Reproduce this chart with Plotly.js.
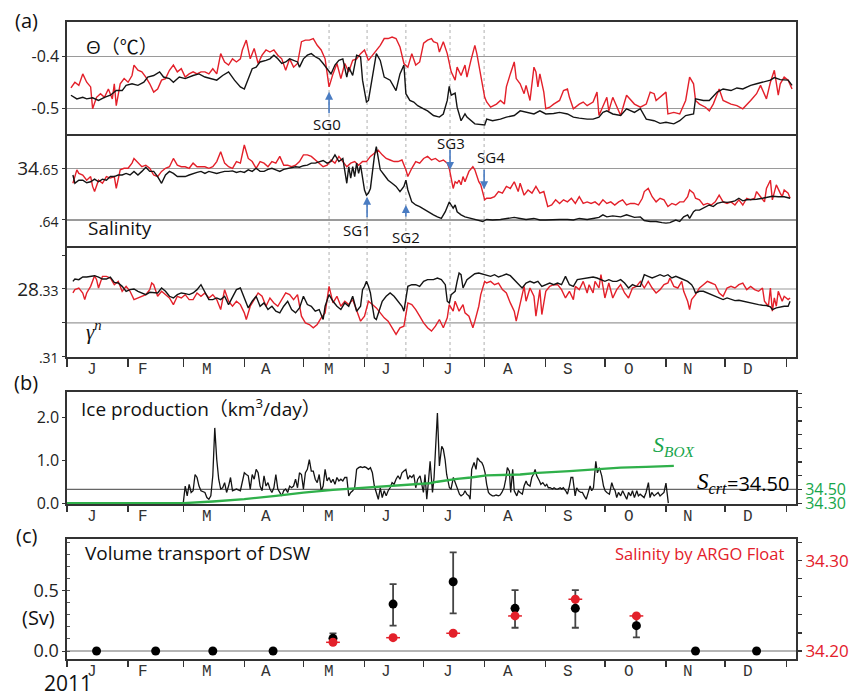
<!DOCTYPE html>
<html><head><meta charset="utf-8">
<script src="https://cdn.plot.ly/plotly-3.0.1.min.js"></script>
<style>body{margin:0;background:#fff}#chart{width:854px;height:696px}</style>
</head><body><div id="chart"></div>
<script>
// ---------------- data ----------------
const monthStartDays = [0,31,59,90,120,151,181,212,243,273,304,334,365];
const monthLetters = ['J','F','M','A','M','J','J','A','S','O','N','D'];
const monthLabelDays = [12.7,38.6,71,101,133,162,193.4,223.9,254.3,285.3,315,345.7];
const sgNames = ['SG0','SG1','SG2','SG3','SG4'];
const sgDays = [133,152.3,172,194.4,211.7];

// (a) potential temperature [day, degC]
const thetaBlack = [[2,-0.475],[5,-0.482],[8,-0.479],[10,-0.482],[13,-0.480],[16,-0.485],[19,-0.479],[22,-0.475],[25,-0.466],[28,-0.466],[30,-0.456],[33,-0.453],[36,-0.456],[39,-0.450],[41,-0.440],[44,-0.437],[47,-0.430],[49,-0.440],[52,-0.443],[54,-0.450],[57,-0.440],[60,-0.443],[64,-0.437],[67,-0.434],[70,-0.440],[73,-0.443],[76,-0.446],[79,-0.437],[82,-0.430],[85,-0.446],[88,-0.459],[90,-0.463],[92,-0.443],[94,-0.424],[96,-0.421],[98,-0.411],[101,-0.408],[103,-0.405],[105,-0.398],[107,-0.405],[109,-0.414],[111,-0.411],[113,-0.405],[115,-0.408],[117,-0.411],[118,-0.421],[120,-0.405],[122,-0.398],[124,-0.395],[126,-0.401],[128,-0.405],[130,-0.414],[132,-0.424],[134,-0.434],[136,-0.417],[138,-0.408],[140,-0.405],[142,-0.440],[143,-0.421],[145,-0.437],[147,-0.398],[149,-0.401],[150,-0.446],[152,-0.488],[153,-0.485],[155,-0.440],[157,-0.395],[159,-0.408],[161,-0.440],[164,-0.446],[167,-0.466],[169,-0.434],[171,-0.417],[172,-0.472],[174,-0.485],[176,-0.488],[178,-0.495],[181,-0.501],[183,-0.505],[186,-0.514],[189,-0.517],[191,-0.511],[193,-0.485],[194,-0.458],[195,-0.475],[197,-0.471],[198,-0.498],[200,-0.524],[202,-0.511],[203,-0.517],[207,-0.530],[212,-0.532],[213,-0.521],[216,-0.524],[220,-0.521],[223,-0.517],[227,-0.514],[230,-0.505],[233,-0.508],[237,-0.511],[240,-0.505],[243,-0.511],[247,-0.510],[250,-0.508],[254,-0.511],[257,-0.517],[260,-0.519],[264,-0.521],[267,-0.521],[270,-0.517],[272,-0.508],[274,-0.505],[277,-0.511],[281,-0.514],[284,-0.501],[288,-0.508],[291,-0.501],[294,-0.521],[298,-0.524],[301,-0.529],[304,-0.527],[308,-0.530],[311,-0.524],[314,-0.514],[318,-0.511],[319,-0.482],[323,-0.485],[326,-0.485],[330,-0.469],[333,-0.463],[337,-0.466],[340,-0.461],[343,-0.463],[347,-0.456],[350,-0.453],[353,-0.450],[357,-0.446],[359,-0.441],[362,-0.445],[366,-0.446],[368,-0.456]];
const thetaRed = [[2,-0.461],[4,-0.450],[6,-0.456],[8,-0.434],[10,-0.450],[12,-0.459],[13,-0.501],[15,-0.479],[17,-0.472],[19,-0.479],[21,-0.463],[23,-0.482],[24,-0.453],[25,-0.495],[27,-0.453],[29,-0.443],[31,-0.450],[33,-0.437],[34,-0.417],[36,-0.427],[38,-0.430],[40,-0.440],[42,-0.453],[44,-0.469],[46,-0.463],[48,-0.446],[50,-0.443],[52,-0.427],[54,-0.417],[56,-0.430],[58,-0.424],[60,-0.440],[62,-0.434],[64,-0.430],[66,-0.434],[68,-0.430],[70,-0.430],[72,-0.434],[74,-0.424],[76,-0.434],[78,-0.395],[80,-0.411],[82,-0.417],[84,-0.405],[86,-0.411],[88,-0.405],[89,-0.388],[91,-0.369],[93,-0.405],[95,-0.385],[97,-0.414],[99,-0.398],[101,-0.388],[103,-0.392],[105,-0.388],[107,-0.398],[109,-0.405],[111,-0.427],[113,-0.405],[115,-0.421],[117,-0.414],[119,-0.372],[121,-0.369],[123,-0.369],[125,-0.366],[127,-0.379],[129,-0.388],[131,-0.405],[133,-0.459],[135,-0.434],[137,-0.414],[139,-0.443],[141,-0.414],[143,-0.430],[145,-0.408],[147,-0.405],[149,-0.395],[151,-0.388],[153,-0.408],[155,-0.398],[157,-0.388],[159,-0.379],[161,-0.366],[163,-0.366],[165,-0.363],[167,-0.366],[169,-0.382],[171,-0.414],[173,-0.421],[175,-0.395],[177,-0.417],[179,-0.411],[181,-0.375],[183,-0.369],[185,-0.366],[186,-0.372],[188,-0.375],[189,-0.392],[191,-0.372],[193,-0.395],[195,-0.430],[197,-0.446],[198,-0.421],[200,-0.437],[202,-0.417],[203,-0.440],[205,-0.408],[207,-0.379],[208,-0.395],[210,-0.434],[212,-0.479],[213,-0.488],[215,-0.498],[218,-0.492],[220,-0.485],[222,-0.492],[223,-0.459],[225,-0.434],[227,-0.411],[228,-0.443],[230,-0.453],[232,-0.472],[233,-0.456],[235,-0.485],[237,-0.421],[238,-0.430],[239,-0.459],[240,-0.434],[242,-0.469],[243,-0.501],[245,-0.498],[247,-0.492],[250,-0.485],[252,-0.466],[254,-0.463],[255,-0.479],[257,-0.501],[260,-0.492],[262,-0.488],[264,-0.495],[267,-0.488],[269,-0.469],[270,-0.514],[274,-0.479],[275,-0.505],[277,-0.479],[281,-0.514],[284,-0.475],[288,-0.492],[291,-0.498],[294,-0.492],[296,-0.469],[298,-0.472],[299,-0.485],[301,-0.479],[304,-0.469],[305,-0.511],[308,-0.508],[311,-0.511],[314,-0.485],[316,-0.440],[318,-0.453],[319,-0.485],[321,-0.492],[324,-0.498],[326,-0.505],[328,-0.492],[330,-0.472],[331,-0.463],[333,-0.485],[337,-0.492],[340,-0.495],[343,-0.501],[347,-0.485],[350,-0.472],[352,-0.456],[355,-0.482],[357,-0.450],[359,-0.427],[361,-0.475],[362,-0.453],[364,-0.440],[366,-0.446],[368,-0.463]];

// (a) salinity [day, psu]
const salBlack = [[3,34.6487],[4,34.6471],[6,34.6477],[8,34.6477],[10,34.6472],[12,34.6474],[14,34.6479],[16,34.6474],[18,34.6479],[20,34.6477],[22,34.6484],[24,34.6484],[26,34.6487],[28,34.6487],[30,34.6490],[32,34.6487],[34,34.6494],[36,34.6487],[38,34.6494],[40,34.6502],[42,34.6494],[44,34.6494],[46,34.6484],[48,34.6471],[50,34.6487],[52,34.6494],[54,34.6490],[56,34.6484],[58,34.6484],[60,34.6484],[62,34.6487],[64,34.6490],[66,34.6492],[68,34.6494],[70,34.6490],[72,34.6494],[74,34.6492],[76,34.6490],[78,34.6492],[80,34.6494],[82,34.6494],[84,34.6495],[86,34.6492],[88,34.6494],[90,34.6492],[92,34.6497],[94,34.6494],[96,34.6500],[98,34.6494],[100,34.6494],[102,34.6498],[104,34.6500],[106,34.6497],[108,34.6494],[110,34.6498],[112,34.6500],[114,34.6502],[116,34.6503],[118,34.6502],[120,34.6505],[122,34.6506],[124,34.6510],[126,34.6510],[128,34.6513],[130,34.6515],[132,34.6510],[134,34.6513],[136,34.6526],[138,34.6513],[140,34.6519],[141,34.6490],[142,34.6471],[143,34.6503],[144,34.6481],[145,34.6503],[146,34.6484],[147,34.6510],[148,34.6490],[149,34.6506],[150,34.6477],[151,34.6458],[152,34.6448],[153,34.6452],[154,34.6461],[155,34.6497],[156,34.6523],[157,34.6542],[158,34.6523],[159,34.6497],[161,34.6487],[163,34.6477],[165,34.6471],[167,34.6465],[169,34.6455],[171,34.6465],[172,34.6477],[173,34.6458],[175,34.6435],[177,34.6429],[179,34.6426],[183,34.6416],[186,34.6410],[188,34.6406],[190,34.6403],[192,34.6416],[194,34.6435],[195,34.6429],[196,34.6423],[197,34.6429],[198,34.6416],[200,34.6410],[202,34.6406],[205,34.6403],[208,34.6400],[211,34.6397],[213,34.6401],[216,34.6400],[220,34.6401],[223,34.6403],[227,34.6405],[230,34.6403],[233,34.6401],[237,34.6403],[240,34.6400],[243,34.6400],[247,34.6401],[250,34.6401],[254,34.6401],[257,34.6400],[260,34.6403],[264,34.6401],[267,34.6403],[270,34.6405],[272,34.6410],[274,34.6406],[277,34.6408],[281,34.6406],[284,34.6410],[288,34.6405],[291,34.6406],[293,34.6399],[296,34.6397],[299,34.6397],[302,34.6395],[304,34.6394],[306,34.6395],[309,34.6400],[311,34.6397],[313,34.6406],[315,34.6410],[316,34.6403],[318,34.6416],[319,34.6419],[321,34.6419],[323,34.6423],[326,34.6429],[328,34.6426],[330,34.6432],[333,34.6435],[335,34.6434],[337,34.6435],[339,34.6437],[341,34.6442],[343,34.6437],[345,34.6439],[348,34.6439],[350,34.6440],[353,34.6442],[356,34.6445],[358,34.6446],[361,34.6445],[364,34.6445],[367,34.6442]];
const salRed = [[3,34.6471],[4,34.6484],[5,34.6497],[6,34.6490],[8,34.6487],[10,34.6477],[12,34.6484],[13,34.6465],[14,34.6455],[16,34.6477],[18,34.6471],[20,34.6484],[22,34.6481],[24,34.6484],[25,34.6461],[27,34.6497],[29,34.6500],[31,34.6500],[33,34.6510],[34,34.6519],[36,34.6510],[38,34.6503],[40,34.6506],[42,34.6500],[44,34.6487],[46,34.6484],[48,34.6494],[50,34.6500],[52,34.6503],[54,34.6519],[56,34.6506],[58,34.6503],[60,34.6503],[62,34.6500],[64,34.6510],[66,34.6503],[68,34.6503],[70,34.6503],[72,34.6500],[74,34.6503],[76,34.6513],[78,34.6532],[80,34.6510],[82,34.6503],[84,34.6500],[86,34.6513],[88,34.6510],[90,34.6545],[92,34.6519],[94,34.6513],[96,34.6500],[98,34.6513],[100,34.6510],[102,34.6503],[104,34.6513],[106,34.6510],[108,34.6523],[110,34.6506],[112,34.6506],[114,34.6503],[116,34.6506],[118,34.6513],[120,34.6526],[122,34.6526],[124,34.6523],[126,34.6516],[128,34.6510],[130,34.6503],[132,34.6506],[134,34.6516],[136,34.6510],[138,34.6523],[140,34.6513],[142,34.6503],[144,34.6510],[146,34.6513],[148,34.6506],[150,34.6513],[152,34.6513],[154,34.6523],[156,34.6529],[158,34.6535],[160,34.6526],[162,34.6519],[164,34.6516],[166,34.6513],[168,34.6513],[170,34.6516],[172,34.6497],[173,34.6484],[175,34.6500],[177,34.6513],[179,34.6510],[181,34.6519],[183,34.6523],[185,34.6516],[187,34.6519],[189,34.6513],[191,34.6516],[193,34.6510],[194,34.6500],[195,34.6477],[196,34.6461],[197,34.6474],[198,34.6471],[199,34.6477],[200,34.6468],[201,34.6484],[202,34.6474],[204,34.6494],[206,34.6503],[207,34.6497],[208,34.6484],[209,34.6474],[210,34.6468],[212,34.6439],[213,34.6442],[215,34.6442],[217,34.6445],[219,34.6455],[221,34.6452],[223,34.6465],[225,34.6461],[227,34.6474],[229,34.6455],[230,34.6471],[232,34.6448],[234,34.6458],[236,34.6452],[238,34.6465],[240,34.6452],[242,34.6455],[244,34.6426],[246,34.6429],[248,34.6439],[250,34.6432],[252,34.6439],[254,34.6435],[256,34.6442],[258,34.6432],[260,34.6445],[262,34.6432],[264,34.6435],[266,34.6432],[268,34.6435],[270,34.6429],[272,34.6439],[274,34.6432],[276,34.6435],[278,34.6429],[280,34.6435],[282,34.6439],[284,34.6429],[286,34.6432],[288,34.6432],[290,34.6429],[292,34.6442],[293,34.6455],[295,34.6461],[297,34.6445],[299,34.6435],[301,34.6442],[303,34.6439],[305,34.6426],[307,34.6432],[309,34.6429],[311,34.6435],[313,34.6435],[315,34.6445],[316,34.6458],[318,34.6452],[319,34.6442],[321,34.6439],[323,34.6429],[325,34.6432],[327,34.6429],[329,34.6435],[331,34.6448],[333,34.6435],[335,34.6432],[337,34.6435],[339,34.6429],[341,34.6439],[343,34.6429],[345,34.6442],[347,34.6439],[349,34.6442],[350,34.6455],[352,34.6445],[354,34.6435],[355,34.6461],[357,34.6477],[358,34.6439],[359,34.6452],[360,34.6468],[362,34.6452],[363,34.6445],[364,34.6458],[366,34.6452],[367,34.6442]];

// (a) neutral density [day, kg/m3]
const gammaBlack = [[3,28.33225],[4,28.33294],[6,28.33275],[8,28.33353],[10,28.33353],[12,28.33373],[14,28.33392],[16,28.33353],[18,28.33294],[20,28.33294],[22,28.33353],[24,28.33196],[26,28.33176],[28,28.33078],[30,28.32931],[32,28.32980],[34,28.33000],[36,28.32931],[38,28.32882],[40,28.32833],[42,28.32902],[44,28.32882],[46,28.32882],[48,28.33029],[50,28.32931],[52,28.32784],[54,28.32735],[56,28.32833],[58,28.32882],[60,28.32863],[62,28.32833],[64,28.32882],[66,28.32980],[68,28.33127],[70,28.32882],[72,28.32686],[74,28.32686],[76,28.32735],[78,28.32686],[80,28.32784],[82,28.32539],[84,28.32784],[86,28.32980],[88,28.33029],[90,28.32735],[92,28.32441],[94,28.32637],[96,28.32784],[98,28.32490],[100,28.32588],[102,28.32392],[104,28.32490],[106,28.32343],[108,28.32294],[110,28.32490],[112,28.32637],[114,28.32392],[116,28.32294],[118,28.32441],[120,28.32784],[122,28.32539],[124,28.32490],[126,28.32343],[128,28.32392],[130,28.32098],[131,28.32490],[133,28.32833],[135,28.32637],[137,28.32490],[139,28.32392],[141,28.32588],[143,28.32490],[145,28.32784],[147,28.32343],[149,28.32490],[150,28.32980],[151,28.33078],[152,28.33225],[153,28.33078],[154,28.32882],[155,28.32490],[156,28.32147],[157,28.32098],[158,28.32294],[160,28.32637],[162,28.32784],[164,28.32882],[166,28.32784],[168,28.32637],[170,28.32490],[171,28.32343],[172,28.32784],[173,28.33078],[175,28.33127],[177,28.33127],[179,28.33078],[181,28.33225],[183,28.33275],[186,28.33275],[188,28.33324],[190,28.33275],[192,28.33127],[193,28.32637],[194,28.32588],[195,28.32833],[196,28.32882],[197,28.32931],[198,28.33225],[199,28.33471],[200,28.33422],[201,28.33029],[203,28.33275],[205,28.33373],[207,28.33451],[209,28.33471],[211,28.33441],[213,28.33392],[215,28.33373],[217,28.33422],[219,28.33353],[221,28.33392],[223,28.33441],[225,28.33392],[227,28.33275],[229,28.33127],[231,28.33029],[233,28.33176],[235,28.33225],[237,28.33176],[239,28.33225],[241,28.33078],[243,28.33127],[245,28.33176],[247,28.33127],[249,28.33176],[251,28.33127],[253,28.33373],[255,28.33127],[257,28.33078],[259,28.33275],[261,28.33294],[263,28.33324],[265,28.33324],[267,28.33353],[269,28.33324],[271,28.33275],[273,28.33225],[275,28.33275],[277,28.33225],[279,28.33225],[281,28.33275],[283,28.33176],[285,28.33029],[287,28.33127],[289,28.33078],[291,28.33078],[293,28.33422],[295,28.33373],[297,28.33324],[299,28.33373],[301,28.33422],[303,28.33373],[305,28.33422],[307,28.33324],[309,28.33373],[311,28.33324],[313,28.33275],[315,28.33225],[317,28.33127],[318,28.33029],[319,28.32882],[321,28.32931],[323,28.32931],[325,28.32882],[327,28.32833],[329,28.32784],[331,28.32735],[333,28.32686],[335,28.32735],[337,28.32686],[339,28.32657],[341,28.32667],[343,28.32637],[345,28.32608],[347,28.32588],[349,28.32569],[351,28.32539],[353,28.32520],[355,28.32510],[357,28.32471],[358,28.32392],[360,28.32441],[362,28.32471],[364,28.32490],[366,28.32490],[367,28.32637]];
const gammaRed = [[3,28.32882],[4,28.32980],[6,28.33029],[8,28.32882],[9,28.32686],[10,28.32882],[12,28.33078],[14,28.33392],[15,28.33275],[16,28.33029],[18,28.33373],[20,28.33373],[22,28.33324],[24,28.33127],[26,28.33225],[28,28.32931],[30,28.33078],[32,28.32931],[34,28.32686],[36,28.32735],[38,28.32784],[40,28.32833],[42,28.32980],[43,28.33176],[44,28.33127],[46,28.32784],[48,28.32931],[50,28.32833],[52,28.32735],[54,28.32539],[56,28.32784],[58,28.32735],[60,28.32833],[62,28.32686],[64,28.32686],[66,28.32882],[68,28.32784],[70,28.32882],[72,28.32735],[74,28.32833],[76,28.32686],[78,28.32392],[80,28.32980],[82,28.32637],[84,28.32490],[86,28.32637],[88,28.32539],[90,28.32294],[91,28.32098],[93,28.32490],[95,28.32686],[97,28.32882],[99,28.32784],[101,28.32490],[103,28.32735],[105,28.32588],[107,28.32490],[109,28.32686],[111,28.32882],[113,28.32833],[115,28.32686],[117,28.32833],[119,28.32196],[121,28.32000],[123,28.31951],[125,28.31853],[127,28.31951],[129,28.32147],[131,28.32294],[133,28.33078],[135,28.32588],[137,28.32784],[139,28.32490],[141,28.32637],[143,28.32539],[145,28.32686],[147,28.32392],[149,28.32049],[151,28.32196],[153,28.32637],[155,28.32539],[157,28.32441],[159,28.32294],[161,28.32147],[163,28.32049],[165,28.31853],[167,28.31657],[169,28.31853],[171,28.31902],[172,28.32245],[173,28.32588],[175,28.32539],[177,28.32392],[179,28.32196],[181,28.32000],[183,28.31853],[185,28.31755],[187,28.31902],[189,28.32098],[191,28.31853],[193,28.32147],[194,28.32539],[195,28.32441],[196,28.32343],[197,28.32637],[199,28.32343],[201,28.32539],[202,28.32294],[204,28.32196],[206,28.31853],[207,28.32049],[209,28.32490],[210,28.32833],[212,28.33225],[213,28.33176],[215,28.33225],[217,28.33127],[219,28.33176],[221,28.32980],[223,28.32882],[225,28.32588],[227,28.32343],[228,28.32049],[230,28.32588],[232,28.33078],[233,28.32637],[235,28.33029],[237,28.32784],[238,28.32196],[240,28.32980],[241,28.32245],[243,28.32931],[245,28.33078],[247,28.33127],[249,28.33127],[251,28.32980],[253,28.32735],[255,28.32931],[257,28.32686],[258,28.33078],[260,28.32980],[262,28.33225],[264,28.32882],[265,28.33127],[267,28.32882],[268,28.33225],[270,28.33029],[271,28.33422],[273,28.32735],[275,28.33176],[277,28.32735],[279,28.32980],[281,28.33127],[283,28.32882],[285,28.32735],[287,28.33029],[289,28.33078],[291,28.33225],[293,28.33029],[295,28.33225],[297,28.33029],[299,28.32882],[301,28.32980],[303,28.33127],[305,28.33176],[306,28.33324],[308,28.33078],[310,28.33029],[312,28.33225],[313,28.32931],[315,28.32637],[316,28.32392],[317,28.32686],[319,28.32833],[321,28.33029],[323,28.33127],[325,28.33225],[327,28.33176],[329,28.33127],[331,28.32882],[333,28.32784],[335,28.33029],[337,28.33078],[339,28.33029],[341,28.33127],[343,28.33176],[345,28.32980],[347,28.33078],[349,28.32980],[351,28.32931],[353,28.33029],[354,28.32637],[356,28.32490],[357,28.33029],[358,28.32343],[359,28.32735],[360,28.32490],[361,28.32931],[363,28.32637],[364,28.32784],[366,28.32686],[367,28.32735]];

// (b) ice production [day, km3/day] and box salinity [day, psu]
const iceProd = [[59,0],[60,0.40],[61,0.17],[62,0.44],[63,0.25],[64,0.29],[65,0.67],[66,0.60],[67,0.40],[68,0.29],[70,0.25],[71,0.13],[72,0.09],[73,0.17],[74,0.64],[75,1.76],[76,1.02],[77,0.56],[78,0.33],[79,0.36],[80,0.48],[81,0.25],[82,0.40],[83,0.60],[84,0.29],[86,0.33],[88,0.29],[89,0.48],[90,0.71],[91,0.67],[92,0.64],[93,0.33],[94,0.67],[95,0.56],[96,0.79],[97,0.71],[98,0.40],[99,0.29],[100,0.64],[101,0.40],[102,0.48],[103,0.33],[104,0.25],[105,0.36],[106,0.67],[107,0.33],[108,0.25],[109,0.17],[110,0.29],[111,0.33],[112,0.25],[113,0.40],[114,0.36],[115,0.40],[116,0.56],[117,0.36],[118,0.71],[119,0.67],[120,0.33],[121,0.71],[122,0.79],[123,1.02],[124,0.75],[125,0.75],[126,0.56],[127,0.48],[128,0.67],[129,0.29],[130,0.40],[131,0.79],[132,0.52],[133,0.60],[134,0.48],[135,0.56],[136,0.44],[137,0.60],[138,0.52],[139,0.56],[140,0.52],[141,0.60],[142,0.60],[143,0.17],[144,0.25],[145,0.29],[146,0.36],[147,0.79],[148,0.83],[149,0.85],[150,0.83],[151,0.85],[152,0.83],[153,0.79],[154,0.83],[155,0.71],[156,0.40],[157,0.25],[158,0.09],[159,0.36],[160,0.13],[161,0.29],[162,0.17],[163,0.29],[164,0.36],[165,0.48],[166,0.44],[167,0.56],[168,0.64],[169,0.56],[170,0.71],[171,0.75],[172,0.79],[173,0.56],[174,0.64],[175,0.60],[176,0.67],[177,0.36],[178,0.56],[179.2,0.64],[180.9,0.25],[181.7,0.67],[182.6,0.09],[183.4,0.48],[184.3,0.98],[185.5,0.25],[186.3,0.60],[188,2.11],[189,0.87],[190.2,1.33],[191,1.26],[191.9,1.02],[192.7,0.67],[194.1,0.36],[194.9,0.33],[196.1,0.60],[197,0.48],[197.8,0.36],[199.2,0.21],[200,0.17],[201.2,0.21],[202,0.29],[202.9,0.21],[204,0.17],[204.6,0.09],[205.4,0.79],[206.6,0.95],[207.6,0.79],[208.3,1.06],[209.6,0.98],[210.5,0.95],[211.3,0.87],[212.2,0.71],[213,0.44],[213.9,0.25],[214.7,0.21],[215.9,0.17],[216.8,0.17],[217.8,0.19],[219,0.17],[219.8,0.19],[220.7,0.25],[221.8,0.36],[222.7,0.56],[223.5,0.83],[224.5,0.75],[225.2,0.25],[226.2,0.79],[227,0.29],[228.3,0.17],[229.1,0.29],[230,0.25],[231.1,0.21],[232,0.40],[233,0.52],[233.7,0.44],[235,0.40],[235.9,0.60],[236.7,0.67],[237.6,0.79],[238.4,0.64],[239.8,0.52],[240.5,0.44],[241.5,0.48],[242.7,0.40],[243.5,0.44],[244.3,0.36],[245.2,0.36],[246.4,0.33],[247.2,0.36],[248.2,0.33],[249.1,0.33],[250.3,0.36],[251.1,0.33],[251.9,0.36],[253.1,0.29],[254,0.21],[255,0.40],[255.8,0.60],[256.7,0.60],[257.9,0.17],[258.7,0.36],[259.6,0.29],[260.8,0.25],[261.6,0.25],[262.5,0.17],[263.5,0.09],[264.3,0.21],[265.5,0.40],[266.3,0.29],[267.2,0.36],[268.4,0.98],[269.2,0.71],[270.2,0.83],[271.4,0.64],[272.3,0.40],[273.1,0.29],[274,0.25],[275.3,0.21],[276.5,0.48],[277.3,0.36],[278.2,0.29],[279,0.13],[279.9,0.25],[281,0.17],[282,0.29],[283.3,0.17],[284.1,0.09],[285,0.25],[286.1,0.17],[287,0.29],[288,0.13],[289.2,0.29],[290,0.17],[290.9,0.21],[292.1,0.17],[292.9,0.13],[293.9,0.25],[295.1,0.48],[295.9,0.13],[296.8,0.25],[298,0.17],[299,0.21],[300,0.25],[301,0.17],[302.2,0.21],[303,0.25],[304,0.47],[305.2,0]];
const sBox = [[0,34.300],[59,34.300],[74,34.324],[90,34.358],[106,34.407],[120,34.455],[135,34.494],[152,34.528],[169,34.562],[184,34.591],[188,34.613],[198,34.656],[205,34.675],[213,34.706],[230,34.719],[239,34.744],[255,34.769],[267,34.794],[281,34.819],[294,34.831],[308,34.844]];
const sCrit = 34.50;

// (c) monthly DSW volume transport (Sv) and ARGO salinity
const dswDay = [15,45,74,104.6,135,165.5,196,227.4,258,289,319,350];
const dswTransport = [0,0,0,0,0.105,0.389,0.574,0.354,0.354,0.210,0,0];
const dswErrPlus  = [0,0,0,0,0.042,0.166,0.244,0.151,0.151,0.080,0,0];
const dswErrMinus = [0,0,0,0,0.020,0.179,0.262,0.161,0.161,0.097,0,0];
const argoDay = [135,165.5,196,227.4,258,289];
const argoSal = [34.2096,34.2147,34.2196,34.2388,34.2573,34.2388];

// ---------------- drawing ----------------
const W = 854, H = 696;
const px = v => v / W, py = v => 1 - v / H;
const dom = (top, bot) => [1 - bot / H, 1 - top / H];
const xs = p => p.map(d => d[0]), ys = p => p.map(d => d[1]);
const RED = '#e3202a', BLK = '#141414', GRN = '#2fb04a', GRNT = '#16a54a', BLUE = '#4a7cc2';
const FONT = 'Open Sans, Noto Sans CJK JP, sans-serif';

const line = (pairs, xa, ya, color, w) => ({x: xs(pairs), y: ys(pairs), xaxis: xa, yaxis: ya, mode: 'lines', line: {color: color, width: w}, hoverinfo: 'skip'});

const traces = [
  line(thetaRed, 'x', 'y', RED, 1.4), line(thetaBlack, 'x', 'y', BLK, 1.4),
  line(salRed, 'x2', 'y2', RED, 1.4), line(salBlack, 'x2', 'y2', BLK, 1.4),
  line(gammaRed, 'x3', 'y3', RED, 1.4), line(gammaBlack, 'x3', 'y3', BLK, 1.4),
  line(iceProd, 'x4', 'y4', BLK, 1.3),
  line(sBox, 'x4', 'y5', GRN, 2.3),
  {x: dswDay, y: dswTransport, xaxis: 'x5', yaxis: 'y6', mode: 'markers',
   marker: {color: '#000', size: 9},
   error_y: {type: 'data', symmetric: false, array: dswErrPlus, arrayminus: dswErrMinus, color: '#444', thickness: 1.8, width: 3.5}},
  {x: argoDay, y: argoSal, xaxis: 'x5', yaxis: 'y7', mode: 'markers',
   marker: {color: RED, size: 9},
   error_x: {type: 'constant', value: 3.5, color: RED, thickness: 1.5, width: 0}}
];

const tickFont = {family: FONT, size: 16, color: '#222'};
const xBase = {domain: [px(67), px(796)], range: [0, 370], showline: true, linecolor: '#333', linewidth: 1.6, mirror: true,
  showgrid: false, zeroline: false, showticklabels: false, ticks: '', fixedrange: true};
const monthTicks = {tickmode: 'array', tickvals: monthStartDays, ticks: 'outside', ticklen: 7, tickwidth: 1.3, tickcolor: '#333'};
const yBase = {showline: true, linecolor: '#333', linewidth: 1.6, mirror: true, zeroline: false, fixedrange: true,
  tickfont: tickFont, ticks: 'outside', ticklen: 3, tickcolor: '#333', tickmode: 'array', gridcolor: '#9a9a9a', gridwidth: 1.2};

const layout = {
  width: W, height: H, margin: {l: 0, r: 0, t: 0, b: 0}, showlegend: false,
  paper_bgcolor: '#fff', plot_bgcolor: 'rgba(0,0,0,0)', font: {family: FONT},
  xaxis:  Object.assign({}, xBase, {anchor: 'y'}),
  xaxis2: Object.assign({}, xBase, {anchor: 'y2', mirror: false}),
  xaxis3: Object.assign({}, xBase, monthTicks, {anchor: 'y3', ticklen: 8, mirror: false}),
  xaxis4: Object.assign({}, xBase, monthTicks, {anchor: 'y4', ticklen: 6, layer: 'below traces'}),
  xaxis5: Object.assign({}, xBase, monthTicks, {anchor: 'y6', ticklen: 6}),
  yaxis:  Object.assign({}, yBase, {domain: dom(22, 134), anchor: 'x', range: [-0.5495, -0.3342],
    tickvals: [-0.4, -0.5], ticktext: ['-0.4', '-0.5'], showgrid: true}),
  yaxis2: Object.assign({}, yBase, {domain: dom(134, 246), anchor: 'x2', range: [34.63497, 34.65663],
    tickvals: [34.65, 34.64], ticktext: ["34<span style='font-size:14px'>.65</span>", "<span style='font-size:14px'>.64</span>"], showgrid: true, tickfont: {family: FONT, size: 19, color: '#222'}}),
  yaxis3: Object.assign({}, yBase, {domain: dom(246, 357), anchor: 'x3', range: [28.3099, 28.3427],
    tickvals: [28.34, 28.33, 28.32, 28.31], ticktext: ['', "28<span style='font-size:14px'>.33</span>", '', "<span style='font-size:14px'>.31</span>"], showgrid: false, tickfont: {family: FONT, size: 19, color: '#222'}}),
  yaxis4: Object.assign({}, yBase, {domain: dom(392, 504), anchor: 'x4', range: [-0.02, 2.6],
    tickvals: [0, 1, 2], ticktext: ['0.0', '1.0', '2.0'], showgrid: false, layer: 'below traces'}),
  yaxis5: {overlaying: 'y4', side: 'right', anchor: 'x4', range: [34.2875, 35.925], fixedrange: true,
    showline: false, showgrid: false, zeroline: false, tickmode: 'array',
    tickvals: [34.3, 34.5, 34.7, 34.9, 35.1, 35.3, 35.5, 35.7, 35.9], ticktext: ['34.30', '34.50', '', '', '', '', '', '', ''],
    ticks: 'outside', ticklen: 5, tickcolor: '#333', tickwidth: 1.3, tickfont: {family: FONT, size: 16, color: GRNT}},
  yaxis6: Object.assign({}, yBase, {domain: dom(539, 659), anchor: 'x5', range: [-0.0663, 0.9287],
    tickmode: 'linear', tick0: 0, dtick: 0.5, tickformat: '.1f', showgrid: false,
    zeroline: true, zerolinecolor: '#b5b5b5', zerolinewidth: 1.5, tickfont: {family: FONT, size: 18, color: '#222'},
    minor: {dtick: 0.1, tick0: 0, ticks: 'inside', ticklen: 3, tickcolor: '#555', showgrid: false}}),
  yaxis7: {overlaying: 'y6', side: 'right', anchor: 'x5', range: [34.1911, 34.3240], fixedrange: true,
    showline: false, showgrid: false, zeroline: false, tickmode: 'array',
    tickvals: [34.20, 34.22, 34.24, 34.26, 34.28, 34.30, 34.32], ticktext: ['34.20', '', '', '', '', '34.30', ''],
    ticks: 'outside', ticklen: 5, tickcolor: '#333', tickwidth: 1.3, tickfont: {family: FONT, size: 17, color: RED}},
  shapes: [], annotations: []
};

// gridlines of the density panel (no grid at the 28.34 tick)
[28.33, 28.32].forEach(v => layout.shapes.push({type: 'line', xref: 'x3', yref: 'y3', x0: 0, x1: 370, y0: v, y1: v,
  line: {color: '#9a9a9a', width: 1.2}, layer: 'below'}));
// SG dotted lines
sgDays.forEach(d => layout.shapes.push({type: 'line', xref: 'x', yref: 'paper', x0: d, x1: d, y0: py(357), y1: py(22),
  line: {color: '#b0b0b0', width: 1, dash: 'dot'}, layer: 'below'}));
// S_crt line
layout.shapes.push({type: 'line', xref: 'x4', yref: 'y5', x0: 0, x1: 370, y0: sCrit, y1: sCrit, line: {color: '#666', width: 1.2}, layer: 'below'});

const A = layout.annotations;
const txt = (text, x, y, size, opts) => A.push(Object.assign({text: text, xref: 'paper', yref: 'paper', x: px(x), y: py(y),
  showarrow: false, xanchor: 'left', yanchor: 'middle', font: {family: FONT, size: size, color: '#111'}}, opts || {}));

// month labels under each panel
[370, 517, 672].forEach(yy => monthLetters.forEach((m, i) => A.push({text: m, xref: 'x', yref: 'paper', x: monthLabelDays[i], y: py(yy),
  showarrow: false, xanchor: 'center', yanchor: 'middle', font: {family: 'Liberation Mono, monospace', size: 16, color: '#333'}})));

txt('(a)', 26, 20, 20, {xanchor: 'center'});
txt('(b)', 26, 382, 20, {xanchor: 'center'});
txt('(c)', 26, 535, 20, {xanchor: 'center'});
txt('Θ（℃）', 84, 47, 19);
txt('Salinity', 86, 228, 19);
txt('<i>γ<sup>n</sup></i>', 84, 330, 21, {font: {family: 'Liberation Serif, serif', size: 21, color: '#111'}});
txt('Ice production（km<sup>3</sup>/day）', 79, 408, 19);
txt('<i>S</i><sub><i>BOX</i></sub>', 651, 446, 22, {font: {family: 'Liberation Serif, serif', size: 22, color: GRNT}});
txt('<i>S<sub>crt</sub></i>', 695, 483, 22, {font: {family: 'Liberation Serif, serif', size: 23, color: '#000'}});
txt('=34.50', 725, 483, 20, {font: {family: FONT, size: 20, color: '#000'}});
txt('Volume transport of DSW', 83, 553, 19);
txt('Salinity by ARGO Float', 786, 553, 16.5, {xanchor: 'right', font: {family: FONT, size: 16.5, color: RED}});
txt('(Sv)', 38, 617, 20, {xanchor: 'center'});
txt('2011', 68, 683, 21, {xanchor: 'center'});

// SG arrows and labels
const sgTipY = [91.7, 196.7, 205, 170, 189.3];
const sgTail = [23, 22, 13, -22, -21];
const sgLabel = [[327, 124], [357, 230], [406, 236.7], [450.7, 142.7], [490.7, 157.3]];
sgDays.forEach((d, i) => {
  A.push({text: '', xref: 'x', yref: 'paper', x: d, y: py(sgTipY[i]), ax: 0, ay: sgTail[i], showarrow: true,
    arrowhead: 2, arrowsize: 1, arrowwidth: 1.6, arrowcolor: BLUE, standoff: 0, startstandoff: 0});
  txt(sgNames[i], sgLabel[i][0], sgLabel[i][1], 15, {xanchor: 'center'});
});

Plotly.newPlot('chart', traces, layout, {displayModeBar: false, staticPlot: true});
</script></body></html>
